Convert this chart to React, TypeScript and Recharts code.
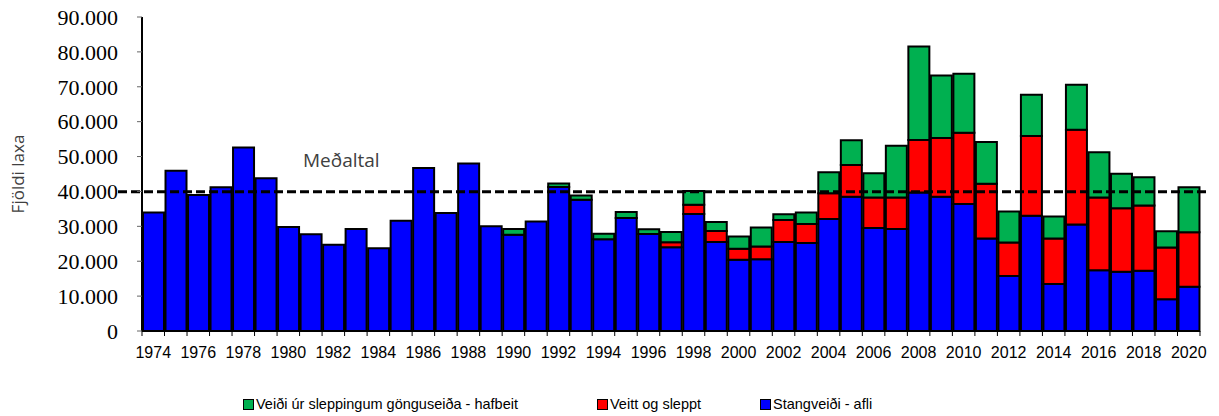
import { BarChart, Bar, XAxis, YAxis, ReferenceLine } from "recharts";

const years = [
  "1974", "1975", "1976", "1977", "1978", "1979", "1980", "1981", "1982", "1983",
  "1984", "1985", "1986", "1987", "1988", "1989", "1990", "1991", "1992", "1993",
  "1994", "1995", "1996", "1997", "1998", "1999", "2000", "2001", "2002", "2003",
  "2004", "2005", "2006", "2007", "2008", "2009", "2010", "2011", "2012", "2013",
  "2014", "2015", "2016", "2017", "2018", "2019", "2020",
];

// Stangveiði - afli
const stangveidi = [
  34000, 45900, 39000, 41200, 52600, 43800, 29800, 27700, 24700, 29200,
  23700, 31600, 46700, 33800, 48000, 30000, 27600, 31400, 41300, 37600,
  26300, 32400, 27800, 24000, 33500, 25500, 20400, 20600, 25500, 25200,
  32100, 38500, 29500, 29200, 39700, 38500, 36400, 26500, 15800, 33000,
  13500, 30500, 17400, 17000, 17300, 9100, 12700,
];

// Veitt og sleppt
const veittSleppt = [
  0, 0, 0, 0, 0, 0, 0, 0, 0, 0,
  0, 0, 0, 0, 0, 0, 0, 0, 0, 0,
  0, 0, 0, 1450, 2700, 3150, 3150, 3600, 6300, 5450,
  7400, 9100, 8800, 9100, 15050, 16800, 20400, 15700, 9550, 22900,
  13000, 27200, 20850, 18200, 18650, 14800, 15600,
];

// Veiði úr sleppingum gönguseiða - hafbeit
const hafbeit = [
  0, 0, 0, 0, 0, 0, 0, 0, 0, 0,
  0, 0, 0, 0, 0, 0, 1650, 0, 1000, 1250,
  1550, 1700, 1350, 2950, 3900, 2600, 3550, 5500, 1650, 3300,
  6000, 7100, 6900, 14800, 26800, 17900, 16900, 12000, 8900, 11800,
  6300, 12900, 13000, 9850, 8150, 4700, 12900,
];

const yTicks = [0, 10000, 20000, 30000, 40000, 50000, 60000, 70000, 80000, 90000];
const MEAN = 39900;

const series = [
  { key: "hafbeit", name: "Veiði úr sleppingum gönguseiða - hafbeit", color: "#00B050" },
  { key: "veitt", name: "Veitt og sleppt", color: "#FF0000" },
  { key: "stang", name: "Stangveiði - afli", color: "#0000FF" },
];

const data = years.map((year, i) => ({
  year,
  stang: stangveidi[i],
  veitt: veittSleppt[i],
  hafbeit: hafbeit[i],
}));

const W = 1219;
const H = 416;
const LEFT = 142;
const RIGHT = 19;
const BAND = (W - LEFT - RIGHT) / years.length;

const fmt = (v: number) => (v === 0 ? "0" : v.toLocaleString("de-DE"));

const XTick = (props: any) => {
  const { x, y, payload, index } = props;
  const half = BAND / 2;
  const last = index === years.length - 1;
  return (
    <g>
      <line x1={x - half} x2={x - half} y1={y} y2={y + 5} stroke="#000" strokeWidth={1} />
      {last && <line x1={x + half} x2={x + half} y1={y} y2={y + 5} stroke="#000" strokeWidth={1} />}
      {index % 2 === 0 && (
        <text x={x} y={y + 27} textAnchor="middle" fontFamily="Liberation Sans" fontSize={16} fill="#000">
          {payload.value}
        </text>
      )}
    </g>
  );
};

const MeanLine = (props: any) => {
  const { x1, y1, x2, y2 } = props;
  return (
    <g>
      <line x1={x1 - 24} y1={y1} x2={x2 + 6} y2={y2} stroke="#000" strokeWidth={3} strokeDasharray="9 4" />
      <text x={x1 + 161} y={y1 - 25} fontFamily="Open Sans" fontSize={19} fill="#404040">
        Meðaltal
      </text>
    </g>
  );
};

const legendPos = [243, 597, 760];

export default function App() {
  return (
    <div style={{ position: "absolute", left: 0, top: 0, width: W, height: H, background: "#fff", fontFamily: "Liberation Serif" }}>
      <BarChart
        width={W}
        height={H}
        data={data}
        margin={{ top: 17, right: RIGHT, bottom: 55, left: 0 }}
        barCategoryGap={1}
      >
        <XAxis
          dataKey="year"
          interval={0}
          tick={XTick}
          tickLine={false}
          tickSize={0}
          tickMargin={0}
          height={30}
          axisLine={{ stroke: "#000", strokeWidth: 2 }}
        />
        <XAxis xAxisId="top" orientation="top" dataKey="year" tick={false} tickLine={false} height={0} axisLine={{ stroke: "#888", strokeWidth: 2 }} />
        <YAxis
          width={LEFT}
          domain={[0, 90000]}
          ticks={yTicks}
          interval={0}
          tickFormatter={fmt}
          tick={{ fontFamily: "Liberation Serif", fontSize: 22, fill: "#000" }}
          tickLine={{ stroke: "#666", strokeWidth: 1 }}
          tickSize={5}
          tickMargin={19}
          axisLine={{ stroke: "#000", strokeWidth: 2 }}
          label={{
            content: ({ viewBox }: any) => (
              <text
                x={24}
                y={viewBox.y + viewBox.height / 2}
                transform={`rotate(-90 24 ${viewBox.y + viewBox.height / 2})`}
                textAnchor="middle"
                fontFamily="Open Sans"
                fontSize={17}
                fill="#404040"
              >
                Fjöldi laxa
              </text>
            ),
          }}
        />
        <YAxis yAxisId="right" orientation="right" width={0} domain={[0, 90000]} tick={false} tickLine={false} axisLine={{ stroke: "#888", strokeWidth: 2 }} />
        <Bar dataKey="stang" name="Stangveiði - afli" stackId="a" fill="#0000FF" stroke="#000" strokeWidth={2} isAnimationActive={false} />
        <Bar dataKey="veitt" name="Veitt og sleppt" stackId="a" fill="#FF0000" stroke="#000" strokeWidth={2} isAnimationActive={false} />
        <Bar dataKey="hafbeit" name="Veiði úr sleppingum gönguseiða - hafbeit" stackId="a" fill="#00B050" stroke="#000" strokeWidth={2} isAnimationActive={false} />
        <ReferenceLine y={MEAN} shape={<MeanLine />} ifOverflow="visible" />
      </BarChart>
      {series.map((s, i) => (
        <div
          key={s.key}
          style={{
            position: "absolute",
            left: legendPos[i],
            top: 396,
            display: "flex",
            alignItems: "center",
            fontFamily: "'Liberation Sans', Arial, sans-serif",
            fontSize: 14.5,
            color: "#000",
            whiteSpace: "nowrap",
          }}
        >
          <span style={{ display: "inline-block", width: 9, height: 9, background: s.color, border: "1px solid #000", marginRight: 2 }} />
          {s.name}
        </div>
      ))}
    </div>
  );
}
